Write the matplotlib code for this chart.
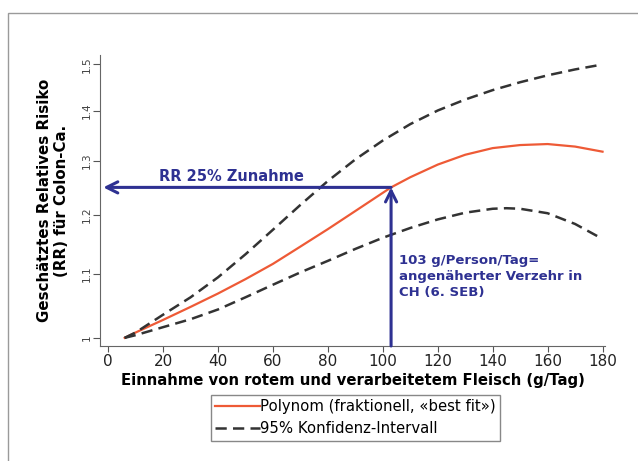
import matplotlib
matplotlib.use("Agg")
import matplotlib.pyplot as plt
from matplotlib.patches import Rectangle

# Werte
x_fit = [6, 10, 20, 30, 40, 50, 60, 70, 80, 90, 100, 103, 110, 120, 130, 140, 150, 160, 170, 180]
rr_fit = [1.0, 1.008, 1.027, 1.047, 1.068, 1.091, 1.116, 1.145, 1.175, 1.207, 1.240, 1.250,
          1.269, 1.293, 1.312, 1.325, 1.331, 1.333, 1.328, 1.318]

x_upper = [6, 10, 20, 30, 40, 50, 60, 70, 80, 90, 100, 110, 120, 130, 140, 150, 160, 170, 180]
rr_upper = [1.0, 1.008, 1.035, 1.062, 1.094, 1.132, 1.174, 1.218, 1.262, 1.303, 1.340, 1.373,
            1.401, 1.424, 1.444, 1.461, 1.476, 1.489, 1.50]

x_lower = [6, 10, 20, 30, 40, 50, 60, 70, 80, 90, 100, 110, 120, 130, 140, 145, 150, 160, 170, 180]
rr_lower = [1.0, 1.004, 1.016, 1.028, 1.043, 1.062, 1.082, 1.102, 1.121, 1.141, 1.160, 1.177,
            1.192, 1.204, 1.211, 1.212, 1.211, 1.203, 1.184, 1.158]

x_ticks = [0, 20, 40, 60, 80, 100, 120, 140, 160, 180]
y_ticks = [1, 1.1, 1.2, 1.3, 1.4, 1.5]
y_ticklabels = ["1", "1.1", "1.2", "1.3", "1.4", "1.5"]

verzehr = 103
rr_verzehr = 1.25

navy = "#2E3192"
red = "#EE5A36"

fig = plt.figure(figsize=(6.38, 4.61), dpi=100)
ax = fig.add_axes([0.1567, 0.2495, 0.792, 0.631])

# Rahmen um die ganze Grafik
fig.add_artist(Rectangle((8 / 638, -0.1), 1.0, 1.1 - 13 / 461, transform=fig.transFigure,
                         fill=False, edgecolor="#9a9a9a", lw=1.0))

line_fit, = ax.plot(x_fit, rr_fit, color=red, lw=1.6)
line_ci, = ax.plot(x_upper, rr_upper, color="#333333", lw=1.8, dashes=(4.5, 2.5))
ax.plot(x_lower, rr_lower, color="#333333", lw=1.8, dashes=(4.5, 2.5))

ax.set_yscale("log")
ax.set_xlim(-3, 181)
ax.set_ylim(0.988, 1.521)
ax.set_yticks(y_ticks)
ax.set_yticklabels(y_ticklabels, rotation=90, va="center", fontsize=7.5, color="#444444")
ax.yaxis.set_minor_locator(matplotlib.ticker.NullLocator())
ax.set_xticks(x_ticks)
ax.tick_params(axis="x", labelsize=11, length=4, color="#555555", labelcolor="#222222", pad=2)
ax.tick_params(axis="y", length=5, color="#555555", pad=1)

for s in ["top", "right"]:
    ax.spines[s].set_visible(False)
for s in ["left", "bottom"]:
    ax.spines[s].set_color("#666666")

ax.set_xlabel("Einnahme von rotem und verarbeitetem Fleisch (g/Tag)",
              fontsize=10.7, fontweight="bold", labelpad=3)
ax.set_ylabel("Geschätztes Relatives Risiko\n(RR) für Colon-Ca.",
              fontsize=10.8, fontweight="bold", labelpad=9, linespacing=1.2)

# Pfeile
ax.annotate("", xy=(-1.8, rr_verzehr), xytext=(verzehr, rr_verzehr),
            arrowprops=dict(arrowstyle="->", color=navy, lw=2.2, mutation_scale=20,
                            shrinkA=0, shrinkB=0))
ax.annotate("", xy=(verzehr, rr_verzehr), xytext=(verzehr, 0.988),
            arrowprops=dict(arrowstyle="->", color=navy, lw=2.2, mutation_scale=20,
                            shrinkA=0, shrinkB=0))

ax.text(45, 1.257, "RR 25% Zunahme", color=navy, fontsize=10.5, fontweight="bold",
        ha="center", va="bottom")
ax.text(106, 1.096, "103 g/Person/Tag=\nangenäherter Verzehr in\nCH (6. SEB)", color=navy,
        fontsize=9.5, fontweight="bold", ha="left", va="center", linespacing=1.3)

leg = fig.legend([line_fit, line_ci],
                 ["Polynom (fraktionell, «best fit»)", "95% Konfidenz-Intervall"],
                 loc="upper left", bbox_to_anchor=(211 / 638, 1 - 395 / 461),
                 fontsize=10.7, handlelength=3.0, handletextpad=0.0, borderpad=0.3,
                 labelspacing=0.45, fancybox=False, framealpha=1, borderaxespad=0)
leg.get_frame().set_edgecolor("#888888")
leg.get_frame().set_linewidth(1.0)

plt.savefig("out.png", dpi=100)
